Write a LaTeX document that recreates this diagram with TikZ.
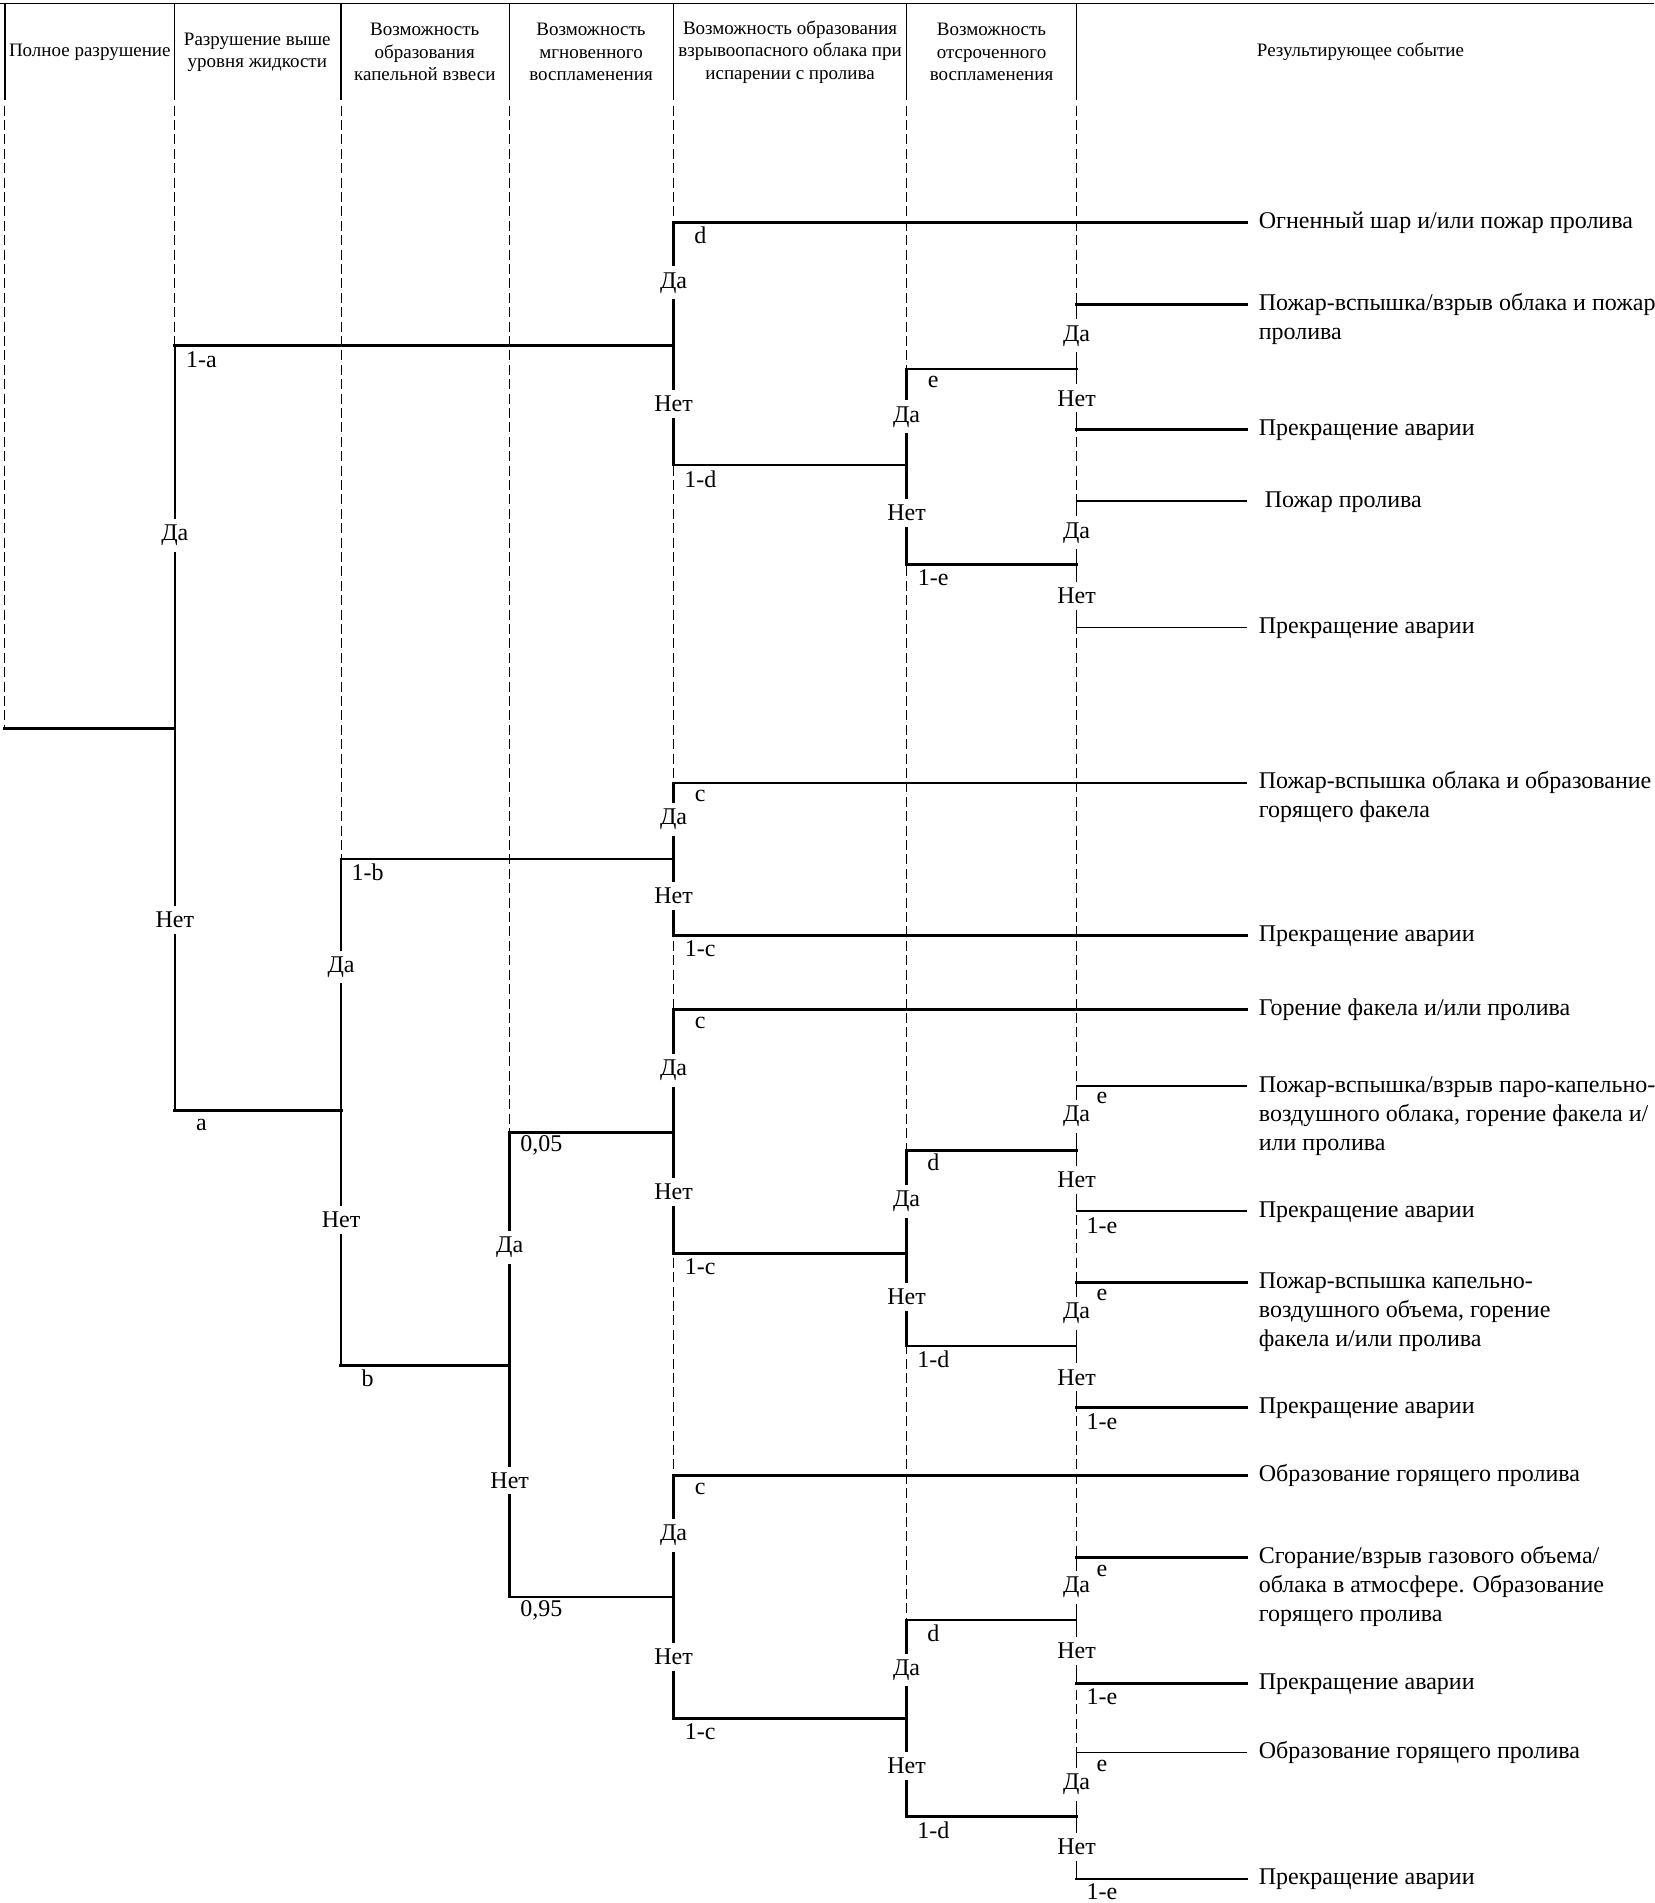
\documentclass[tikz,border=0pt]{standalone}
\usepackage{fontspec}
\setmainfont{Liberation Serif}
\tikzset{
  thk/.style={line width=1.6pt, line cap=rect},
  mid/.style={line width=1.2pt, line cap=rect},
  thn/.style={line width=0.85pt, line cap=rect},
  vert/.style={line width=1.25pt, line cap=rect},
  vthn/.style={line width=0.9pt, line cap=rect},
  guide/.style={line width=0.5pt, dash pattern=on 5pt off 2.2pt},
  frame/.style={line width=0.7pt},
  yn/.style={fill=white, inner xsep=0.3pt, inner ysep=3pt, font=\fontsize{12}{14}\selectfont},
  pr/.style={inner sep=0pt, font=\fontsize{12}{14}\selectfont},
  outc/.style={anchor=base west, inner xsep=6pt, inner ysep=0pt, font=\fontsize{12}{14.5}\selectfont},
  hdr/.style={align=center, font=\fontsize{9.5}{11.2}\selectfont, inner sep=0pt},
}
\newcommand{\oc}[1]{\begin{tabular}[t]{@{}l@{}}#1\end{tabular}}
\begin{document}
\begin{tikzpicture}[x=0.60675pt,y=-0.60675pt]
\useasboundingbox (0,0) rectangle (1363,1568);
% header frame
\coordinate (tl) at (0,3); \coordinate (tr) at (1363,3);
\draw[frame] (tl) -- (tr);
\foreach \x in {4,144,281,420,555,747,887} \draw[frame] (\x,3) -- (\x,82);
% guides
\draw[guide] (4,87) -- (4,600);
\draw[guide] (144,87) -- (144,285);
\draw[guide] (281,87) -- (281,708);
\draw[guide] (420,87) -- (420,933);
\draw[guide] (555,87) -- (555,1416);
\draw[guide] (747,87) -- (747,1497);
\draw[guide] (887,87) -- (887,1548);
% headers
\node[hdr] (h0) at (74,43) {Полное разрушение};
\node[hdr] (h1) at (212,43) {Разрушение выше\\уровня жидкости};
\node[hdr] (h2) at (350,43) {Возможность\\образования\\капельной взвеси};
\node[hdr] (h3) at (487,43) {Возможность\\мгновенного\\воспламенения};
\node[hdr] (h4) at (651,43) {Возможность образования\\взрывоопасного облака при\\испарении с пролива};
\node[hdr] (h5) at (817,43) {Возможность\\отсроченного\\воспламенения};
\node[hdr] (h6) at (1121,43) {Результирующее событие};
% root
\coordinate (root) at (4,600);
\coordinate (j0) at (144,600);
\coordinate (j1t) at (144,285);
\coordinate (j1b) at (144,915);
\draw[thk] (root) -- (j0);
\draw[vert] (j1t) -- node[yn,pos=.248] (y1) {Да} node[yn,pos=.751] (n1) {Нет} (j1b);
% ===== upper subtree
\coordinate (u4) at (555,285); \coordinate (u4t) at (555,183); \coordinate (u4b) at (555,383);
\draw[thk] (j1t) -- (u4);
\node[pr] (l1a) at (166,296) {1-a};
\draw[vert] (u4t) -- node[yn,pos=.25] (yu4) {Да} node[yn,pos=.75] (nu4) {Нет} (u4b);
\node[outc] (o1) at (1027,188) {\oc{Огненный шар и/или пожар пролива}};
\draw[thk] (u4t) -- (u4t -| o1.west);
\node[pr] (lu4d) at (577,194) {d};
\coordinate (u5) at (747,383); \coordinate (u5t) at (747,304); \coordinate (u5b) at (747,465);
\draw[mid] (u4b) -- (u5);
\node[pr] (lu4nd) at (577,395) {1-d};
\draw[vert] (u5t) -- node[yn,pos=.245] (yu5) {Да} node[yn,pos=.735] (nu5) {Нет} (u5b);
\coordinate (u6a) at (887,304); \coordinate (u6at) at (887,251); \coordinate (u6ab) at (887,354);
\coordinate (u6b) at (887,465); \coordinate (u6bt) at (887,413); \coordinate (u6bb) at (887,517);
\draw[mid] (u5t) -- (u6a);
\node[pr] (lu5e) at (769,315) {e};
\draw[thk] (u5b) -- (u6b);
\node[pr] (lu5ne) at (769,476) {1-e};
\draw[vthn] (u6at) -- node[yn,pos=.25] (yu6a) {Да} node[yn,pos=.75] (nu6a) {Нет} (u6ab);
\draw[vthn] (u6bt) -- node[yn,pos=.25] (yu6b) {Да} node[yn,pos=.75] (nu6b) {Нет} (u6bb);
\node[outc] (o2) at (1027,256) {\oc{Пожар-вспышка/взрыв облака и пожар\\пролива}};
\draw[thk] (u6at) -- (u6at -| o2.west);
\node[outc] (o3) at (1027,359) {\oc{Прекращение аварии}};
\draw[thk] (u6ab) -- (u6ab -| o3.west);
\node[outc] (o4) at (1027,418) {\oc{\hspace{3pt}Пожар пролива}};
\draw[thn] (u6bt) -- (u6bt -| o4.west);
\node[outc] (o5) at (1027,522) {\oc{Прекращение аварии}};
\draw[thn] (u6bb) -- (u6bb -| o5.west);
% ===== lower subtree
\coordinate (j2) at (281,915); \coordinate (j2t) at (281,708); \coordinate (j2b) at (281,1125);
\draw[thk] (j1b) -- (j2);
\node[pr] (l1aa) at (166,927) {a};
\draw[vert] (j2t) -- node[yn,pos=.213] (yj2) {Да} node[yn,pos=.712] (nj2) {Нет} (j2b);
\coordinate (b4) at (555,708); \coordinate (b4t) at (555,645); \coordinate (b4b) at (555,771);
\draw[mid] (j2t) -- (b4);
\node[pr] (l1b) at (303,719) {1-b};
\draw[vert] (b4t) -- node[yn,pos=.238] (yb4) {Да} node[yn,pos=.738] (nb4) {Нет} (b4b);
\node[outc] (o6) at (1027,650) {\oc{Пожар-вспышка облака и образование\\горящего факела}};
\draw[thn] (b4t) -- (b4t -| o6.west);
\node[pr] (lb4c) at (577,656) {c};
\node[outc] (o7) at (1027,776) {\oc{Прекращение аварии}};
\draw[thk] (b4b) -- (b4b -| o7.west);
\node[pr] (lb4nc) at (577,782) {1-c};
\coordinate (j3) at (420,1125); \coordinate (j3t) at (420,933); \coordinate (j3b) at (420,1316);
\draw[thk] (j2b) -- (j3);
\node[pr] (lbb) at (303,1136) {b};
\draw[vert] (j3t) -- node[yn,pos=.248] (yj3) {Да} node[yn,pos=.749] (nj3) {Нет} (j3b);
% -- 0,05 branch
\coordinate (p4) at (555,933); \coordinate (p4t) at (555,832); \coordinate (p4b) at (555,1033);
\draw[thk] (j3t) -- (p4);
\node[pr] (l005) at (446,944) {0,05};
\draw[vert] (p4t) -- node[yn,pos=.249] (yp4) {Да} node[yn,pos=.746] (np4) {Нет} (p4b);
\node[outc] (o8) at (1027,837) {\oc{Горение факела и/или пролива}};
\draw[thk] (p4t) -- (p4t -| o8.west);
\node[pr] (lp4c) at (577,843) {c};
\coordinate (p5) at (747,1033); \coordinate (p5t) at (747,948); \coordinate (p5b) at (747,1109);
\draw[thk] (p4b) -- (p5);
\node[pr] (lp4nc) at (577,1044) {1-c};
\draw[vert] (p5t) -- node[yn,pos=.26] (yp5) {Да} node[yn,pos=.75] (np5) {Нет} (p5b);
\coordinate (p6a) at (887,948); \coordinate (p6at) at (887,895); \coordinate (p6ab) at (887,998);
\coordinate (p6b) at (887,1109); \coordinate (p6bt) at (887,1057); \coordinate (p6bb) at (887,1160);
\draw[thk] (p5t) -- (p6a);
\node[pr] (lp5d) at (769,958) {d};
\draw[thn] (p5b) -- (p6b);
\node[pr] (lp5nd) at (769,1120) {1-d};
\draw[vthn] (p6at) -- node[yn,pos=.243] (yp6a) {Да} node[yn,pos=.75] (np6a) {Нет} (p6ab);
\draw[vthn] (p6bt) -- node[yn,pos=.243] (yp6b) {Да} node[yn,pos=.757] (np6b) {Нет} (p6bb);
\node[outc] (o9) at (1027,900) {\oc{Пожар-вспышка/взрыв паро-капельно-\\воздушного облака, горение факела и/\\или пролива}};
\draw[thn] (p6at) -- (p6at -| o9.west);
\node[pr] (lp6ae) at (908,905) {e};
\node[outc] (o10) at (1027,1003) {\oc{Прекращение аварии}};
\draw[thn] (p6ab) -- (p6ab -| o10.west);
\node[pr] (lp6ane) at (908,1010) {1-e};
\node[outc] (o11) at (1027,1062) {\oc{Пожар-вспышка капельно-\\воздушного объема, горение\\факела и/или пролива}};
\draw[thk] (p6bt) -- (p6bt -| o11.west);
\node[pr] (lp6be) at (908,1067) {e};
\node[outc] (o12) at (1027,1165) {\oc{Прекращение аварии}};
\draw[thk] (p6bb) -- (p6bb -| o12.west);
\node[pr] (lp6bne) at (908,1171) {1-e};
% -- 0,95 branch
\coordinate (q4) at (555,1316); \coordinate (q4t) at (555,1216); \coordinate (q4b) at (555,1416);
\draw[mid] (j3b) -- (q4);
\node[pr] (l095) at (446,1327) {0,95};
\draw[vert] (q4t) -- node[yn,pos=.245] (yq4) {Да} node[yn,pos=.745] (nq4) {Нет} (q4b);
\node[outc] (o13) at (1027,1221) {\oc{Образование горящего пролива}};
\draw[thk] (q4t) -- (q4t -| o13.west);
\node[pr] (lq4c) at (577,1227) {c};
\coordinate (q5) at (747,1416); \coordinate (q5t) at (747,1335); \coordinate (q5b) at (747,1497);
\draw[thk] (q4b) -- (q5);
\node[pr] (lq4nc) at (577,1427) {1-c};
\draw[vert] (q5t) -- node[yn,pos=.253] (yq5) {Да} node[yn,pos=.74] (nq5) {Нет} (q5b);
\coordinate (q6a) at (887,1335); \coordinate (q6at) at (887,1283); \coordinate (q6ab) at (887,1387);
\coordinate (q6b) at (887,1497); \coordinate (q6bt) at (887,1444); \coordinate (q6bb) at (887,1548);
\draw[thn] (q5t) -- (q6a);
\node[pr] (lq5d) at (769,1346) {d};
\draw[thk] (q5b) -- (q6b);
\node[pr] (lq5nd) at (769,1508) {1-d};
\draw[vthn] (q6at) -- node[yn,pos=.24] (yq6a) {Да} node[yn,pos=.74] (nq6a) {Нет} (q6ab);
\draw[vthn] (q6bt) -- node[yn,pos=.25] (yq6b) {Да} node[yn,pos=.75] (nq6b) {Нет} (q6bb);
\node[outc] (o14) at (1027,1288) {\oc{Сгорание/взрыв газового объема/\\облака в атмосфере. Образование\\горящего пролива}};
\draw[thk] (q6at) -- (q6at -| o14.west);
\node[pr] (lq6ae) at (908,1294) {e};
\node[outc] (o15) at (1027,1392) {\oc{Прекращение аварии}};
\draw[thk] (q6ab) -- (q6ab -| o15.west);
\node[pr] (lq6ane) at (908,1398) {1-e};
\node[outc] (o16) at (1027,1449) {\oc{Образование горящего пролива}};
\draw[thn] (q6bt) -- (q6bt -| o16.west);
\node[pr] (lq6be) at (908,1455) {e};
\node[outc] (o17) at (1027,1553) {\oc{Прекращение аварии}};
\draw[mid] (q6bb) -- (q6bb -| o17.west);
\node[pr] (lq6bne) at (908,1559) {1-e};
\end{tikzpicture}
\end{document}
